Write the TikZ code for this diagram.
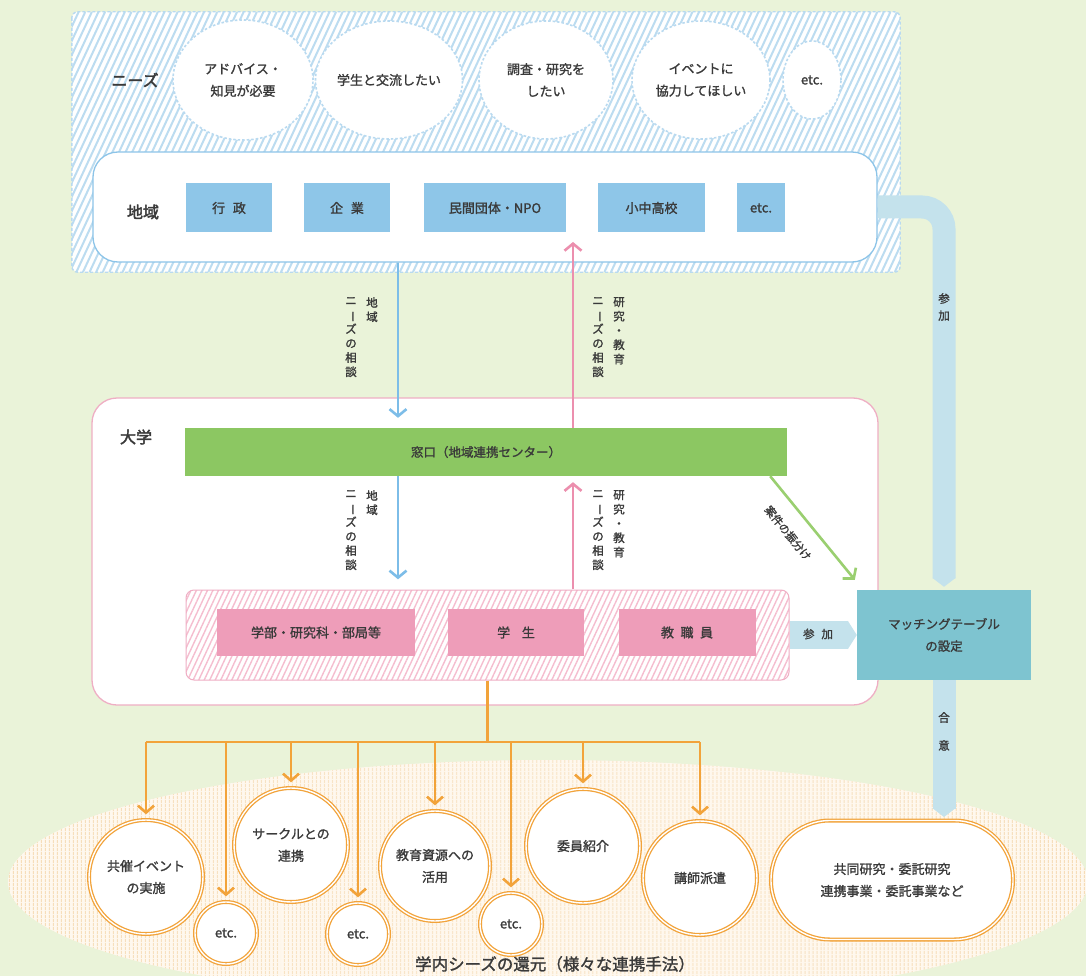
\documentclass[tikz,border=0pt]{standalone}
\usepackage{fontspec}
\setmainfont{Noto Sans CJK JP}
\newfontfamily\hfont{Noto Sans CJK JP}[FakeBold=2.5]
\newfontfamily\bfont{Noto Sans CJK JP}[FakeBold=1.4]
\usetikzlibrary{shapes.geometric,arrows.meta,patterns.meta}
\definecolor{bg}{HTML}{EAF3D9}
\definecolor{txt}{HTML}{3A3A3A}
\definecolor{lblue}{HTML}{B9DAF0}
\definecolor{hblue}{HTML}{BCDCF0}
\definecolor{bblue}{HTML}{8CC4E8}
\definecolor{boxblue}{HTML}{8EC6E8}
\definecolor{arrblue}{HTML}{7DBDE8}
\definecolor{pinkb}{HTML}{EFAEC4}
\definecolor{pinkbox}{HTML}{EE9DB9}
\definecolor{pinkh}{HTML}{F5BDCF}
\definecolor{arrpink}{HTML}{EC8FAE}
\definecolor{grn}{HTML}{8CC762}
\definecolor{garrc}{HTML}{9ACF70}
\definecolor{teal}{HTML}{7EC4D0}
\definecolor{bandc}{HTML}{C4E2EC}
\definecolor{oran}{HTML}{F2A33A}
\definecolor{ohatch}{HTML}{F6DDB8}
\definecolor{ofill}{HTML}{FFF8EE}
\newcommand{\tatebar}{\rotatebox[origin=c]{-90}{ー}}
\tikzset{
  x=1pt, y=-1pt,
  every node/.style={text=txt, inner sep=0pt, font=\bfont\fontsize{13}{22}\selectfont},
  head/.style={font=\hfont\fontsize{16}{18}\selectfont},
  bubble/.style={ellipse, draw=lblue, line width=1.6pt, dash pattern=on 2.5pt off 2pt, fill=white, align=center},
  bbox/.style={rectangle, fill=boxblue, minimum height=49pt, align=center},
  pbox/.style={rectangle, fill=pinkbox, minimum height=47pt, align=center},
  vt/.style={anchor=north, align=center, font=\bfont\fontsize{11.5}{14.3}\selectfont},
  arrtip/.style={-{Straight Barb[length=7pt,width=17pt]}},
  barr/.style={arrtip, draw=arrblue, line width=2.6pt},
  parr/.style={arrtip, draw=arrpink, line width=2.6pt},
  garr/.style={arrtip, draw=garrc, line width=2.6pt},
  oarr/.style={-{Straight Barb[length=7pt,width=16pt]}, draw=oran, line width=2.6pt, shorten >=5pt},
  oline/.style={draw=oran, line width=2.6pt},
  ocirc/.style={circle, draw=oran, line width=1.3pt, double=white, double distance=1.4pt, fill=white, align=center},
  band/.style={draw=bandc, line width=23pt, -{Triangle[width=23pt,length=9pt]}},
}
\begin{document}
\begin{tikzpicture}
\useasboundingbox (0,0) rectangle (1086,976);
\fill[bg] (0,0) rectangle (1086,976);

% bottom ellipse
\fill[ofill] (548,882) ellipse [x radius=540, y radius=122];
\fill[pattern={Lines[angle=90,distance=4pt,line width=1.2pt]}, pattern color=ohatch] (548,882) ellipse [x radius=540, y radius=122];

% needs region
\node[rectangle, minimum width=828pt, minimum height=260pt, rounded corners=6pt, fill=white] (needs) at (486,142) {};
\begin{scope}
  \clip[rounded corners=6pt] (needs.north west) rectangle (needs.south east);
  \foreach \i in {0,...,150}{
    \draw[hblue, line width=2pt] (72+6.6*\i-121,272) -- (72+6.6*\i,12);
  }
\end{scope}
\draw[lblue, line width=1.4pt, dash pattern=on 3pt off 2pt, rounded corners=6pt] (needs.north west) rectangle (needs.south east);
\node[head] (needslbl) at (135,80) {ニーズ};
\node[bubble, minimum width=140pt, minimum height=120pt] (n1) at (243,80) {アドバイス・\\知見が必要};
\node[bubble, minimum width=134pt, minimum height=118pt] (n2) at (389,80) {学生と交流したい};
\node[bubble, minimum width=134pt, minimum height=118pt] (n3) at (546,80) {調査・研究を\\したい};
\node[bubble, minimum width=138pt, minimum height=118pt] (n4) at (701,80) {イベントに\\協力してほしい};
\node[bubble, minimum width=58pt, minimum height=78pt] (n5) at (812,80) {etc.};

% chiiki
\node[rectangle, rounded corners=25pt, draw=bblue, line width=1.3pt, fill=white,
  minimum width=784pt, minimum height=110pt] (chiiki) at (485,207) {};
\node[head] (chiikilbl) at (143,212) {地域};
\node[bbox, minimum width=86pt] (c1) at (229,208) {行\hspace{0.6em}政};
\node[bbox, minimum width=86pt] (c2) at (347,208) {企\hspace{0.6em}業};
\node[bbox, minimum width=142pt] (c3) at (495,208) {民間団体・NPO};
\node[bbox, minimum width=107pt] (c4) at (651.5,208) {小中高校};
\node[bbox, minimum width=48pt] (c5) at (761,208) {etc.};

% daigaku
\node[rectangle, rounded corners=25pt, draw=pinkb, line width=1.3pt, fill=white,
  minimum width=786pt, minimum height=307pt] (daigaku) at (485,551.5) {};
\node[head] (daigakulbl) at (136,437) {大学};
\node[rectangle, fill=grn, minimum width=602pt, minimum height=48pt,
  font=\bfont\fontsize{12.5}{14}\selectfont] (mado) at (486,452) {窓口（地域連携センター）};

\node[rectangle, rounded corners=8pt, draw=pinkb, line width=1pt,
  preaction={fill=white}, pattern={Lines[angle=65,distance=5pt,line width=1.4pt]}, pattern color=pinkh,
  minimum width=603pt, minimum height=90pt] (hatch) at (487.5,635) {};
\node[pbox, minimum width=198pt] (p1) at (316,632.5) {学部・研究科・部局等};
\node[pbox, minimum width=136pt] (p2) at (516,632.5) {学\hspace{0.9em}生};
\node[pbox, minimum width=137pt] (p3) at (687,632.5) {教\hspace{0.5em}職\hspace{0.5em}員};

% matching
\node[rectangle, fill=teal, minimum width=174pt, minimum height=90pt, align=center,
  font=\bfont\fontsize{12.5}{22}\selectfont] (match) at (944,635) {マッチングテーブル\\の設定};

% bands
\draw[band, rounded corners=22pt] (chiiki.east) -| ([yshift=3pt]match.north);
\node[vt, font=\bfont\fontsize{11.5}{17}\selectfont] (sanka1) at (944,293) {参\\加};
\draw[band] (match.south) -- ([yshift=4pt]match.south |- 0,821);
\node[vt, font=\bfont\fontsize{11.5}{28}\selectfont] (goui) at (944,712) {合\\意};
\draw[band, line width=28pt, -{Triangle[width=28pt,length=9pt]}] (hatch.east) -- (match.west);
\node[font=\bfont\fontsize{11.5}{13}\selectfont] (sanka2) at (818,634) {参\hspace{0.6em}加};

% vertical arrows
\coordinate (bluex) at (398,0);
\coordinate (pinkx) at (573,0);
\coordinate (ptip) at (573,242);
\draw[barr, shorten >=10pt] (chiiki.south -| bluex) -- (mado.north -| bluex);
\draw[parr] (mado.north -| pinkx) -- (ptip);
\draw[barr, shorten >=10pt] (mado.south -| bluex) -- (hatch.north -| bluex);
\draw[parr, shorten >=6pt] (hatch.north -| pinkx) -- (mado.south -| pinkx);

\node[vt] (l1a) at (372,297) {地\\域};
\node[vt] (l1b) at (351,297) {ニ\\\tatebar\\ズ\\の\\相\\談};
\node[vt] (r1a) at (619,297) {研\\究\\・\\教\\育};
\node[vt] (r1b) at (598,297) {ニ\\\tatebar\\ズ\\の\\相\\談};
\node[vt] (l2a) at (372,490) {地\\域};
\node[vt] (l2b) at (351,490) {ニ\\\tatebar\\ズ\\の\\相\\談};
\node[vt] (r2a) at (619,490) {研\\究\\・\\教\\育};
\node[vt] (r2b) at (598,490) {ニ\\\tatebar\\ズ\\の\\相\\談};

% green diagonal
\draw[garr] ([xshift=-17pt]mado.south east) -- ([xshift=-2pt,yshift=10pt]match.north west);
\node[rotate=-51, font=\bfont\fontsize{11}{12}\selectfont] (furiwake) at (788,533) {案件の振分け};

% orange tree
\node[ocirc, minimum size=114pt] (o1) at (146,877) {共催イベント\\の実施};
\node[ocirc, minimum size=62pt] (e1) at (226,933) {etc.};
\node[ocirc, minimum size=114pt] (o2) at (291,845) {サークルとの\\連携};
\node[ocirc, minimum size=62pt] (e2) at (358,934) {etc.};
\node[ocirc, minimum size=110pt] (o3) at (435,866) {教育資源への\\活用};
\node[ocirc, minimum size=62pt] (e3) at (511,924) {etc.};
\node[ocirc, minimum size=114pt] (o4) at (583,846) {委員紹介};
\node[ocirc, minimum size=114pt] (o5) at (700,878) {講師派遣};
\node[rectangle, rounded corners=59pt, draw=oran, line width=1.3pt, double=white, double distance=1.4pt,
  fill=white, align=center, minimum width=242pt, minimum height=119pt] (stad) at (892,880) {共同研究・委託研究\\連携事業・委託事業など};

\coordinate (bar) at (0,742);
\draw[oline] (hatch.south) -- (hatch.south |- bar);
\draw[oline] (o1.north |- bar) -- (o5.north |- bar);
\foreach \n in {o1,e1,o2,e2,o3,e3,o4,o5}{
  \draw[oarr] (\n.north |- bar) -- (\n.north);
}

\node[font=\bfont\fontsize{16.5}{18}\selectfont] (kangen) at (555,964) {学内シーズの還元（様々な連携手法）};
\end{tikzpicture}
\end{document}
